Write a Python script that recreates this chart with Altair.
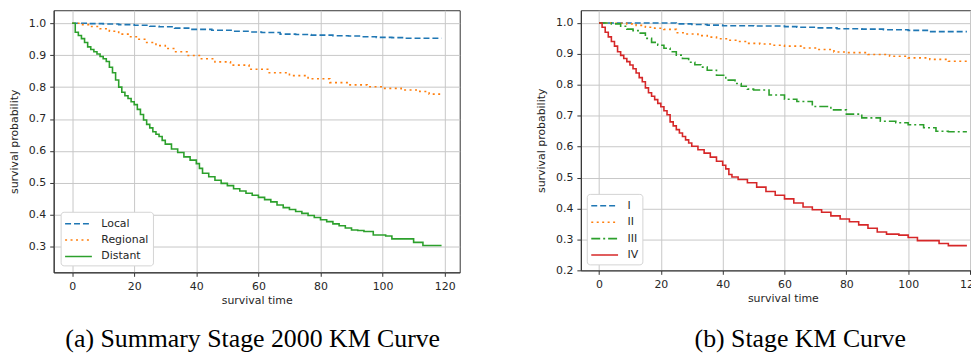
import altair as alt
import pandas as pd

# ---------------- data ----------------
# (a) Summary Stage 2000
local_t = [0, 5, 10, 15, 20, 25, 28, 33, 38, 45, 52, 57, 61, 67, 72, 77, 84, 89, 93, 98, 103, 107, 119]
local_v = [1.0, 0.999, 0.998, 0.996, 0.994, 0.991, 0.989, 0.985, 0.981, 0.978, 0.975, 0.973, 0.971,
           0.966, 0.965, 0.963, 0.961, 0.960, 0.958, 0.956, 0.955, 0.953, 0.953]

regional_t = [0, 3, 6, 9, 12, 15, 18, 21, 24, 27, 30, 33, 37, 41, 46, 51, 57, 63, 70, 76, 83, 89,
              95, 100, 106, 112, 115, 119]
regional_v = [1.0, 0.996, 0.99, 0.983, 0.975, 0.966, 0.958, 0.950, 0.940, 0.930, 0.921, 0.911, 0.899,
              0.889, 0.879, 0.869, 0.856, 0.845, 0.836, 0.826, 0.814, 0.807, 0.801, 0.796, 0.791,
              0.786, 0.778, 0.778]

distant_t = [0, 1, 2, 3, 4, 5, 6, 7, 8, 9, 10, 11, 12, 13, 14, 15, 16, 17, 18, 19, 20, 21, 22, 23,
             24, 25, 26, 27, 28, 29, 30, 32, 34, 36, 38, 40, 41, 42, 44, 46, 48, 50, 52, 54, 56, 58,
             60, 62, 64, 66, 68, 70, 72, 74, 76, 78, 80, 82, 84, 86, 88, 90, 92, 94, 97, 101, 103,
             110, 113, 119]
distant_v = [1.0, 0.972, 0.962, 0.952, 0.94, 0.926, 0.918, 0.911, 0.904, 0.896, 0.889, 0.880, 0.862,
             0.845, 0.822, 0.800, 0.784, 0.773, 0.764, 0.754, 0.745, 0.730, 0.714, 0.697, 0.683,
             0.672, 0.660, 0.652, 0.645, 0.633, 0.621, 0.606, 0.595, 0.581, 0.571, 0.560, 0.545,
             0.530, 0.519, 0.508, 0.498, 0.491, 0.481, 0.474, 0.467, 0.461, 0.454, 0.447, 0.440,
             0.430, 0.422, 0.416, 0.410, 0.404, 0.397, 0.391, 0.384, 0.378, 0.371, 0.365, 0.358,
             0.352, 0.350, 0.347, 0.336, 0.333, 0.324, 0.313, 0.303, 0.303]

# (b) Stage
s1_t = [0, 20, 25, 30, 35, 40, 50, 60, 64, 70, 77, 85, 92, 100, 107, 119]
s1_v = [1.0, 1.0, 0.997, 0.995, 0.993, 0.991, 0.990, 0.988, 0.986, 0.984, 0.981, 0.980, 0.978,
        0.976, 0.972, 0.972]

s2_t = [0, 5, 9, 12, 15, 18, 21, 25, 28, 32, 35, 38, 42, 45, 48, 52, 56, 60, 66, 70, 76, 80, 87,
        94, 100, 107, 113, 119]
s2_v = [1.0, 0.999, 0.997, 0.992, 0.986, 0.983, 0.979, 0.968, 0.964, 0.959, 0.954, 0.949, 0.944,
        0.940, 0.934, 0.932, 0.928, 0.925, 0.919, 0.914, 0.906, 0.904, 0.898, 0.892, 0.887,
        0.882, 0.876, 0.874]

s3_t = [0, 4, 7, 9, 11, 13, 15, 17, 19, 21, 23, 25, 27, 29, 31, 33, 35, 38, 41, 44, 46, 48, 50,
        55, 60, 64, 69, 75, 80, 85, 91, 96, 100, 105, 109, 113, 119]
s3_v = [1.0, 0.997, 0.989, 0.980, 0.975, 0.967, 0.950, 0.937, 0.928, 0.918, 0.907, 0.896, 0.885,
        0.873, 0.865, 0.857, 0.847, 0.831, 0.815, 0.804, 0.795, 0.786, 0.783, 0.767, 0.753,
        0.746, 0.730, 0.719, 0.705, 0.693, 0.682, 0.677, 0.671, 0.661, 0.650, 0.648, 0.648]

s4_t = [0, 1, 2, 3, 4, 5, 6, 7, 8, 9, 10, 11, 12, 13, 14, 15, 16, 17, 18, 19, 20, 21, 22, 23, 24,
        25, 26, 27, 28, 29, 30, 32, 34, 36, 38, 40, 41, 42, 43, 45, 48, 51, 54, 57, 60, 63, 66,
        69, 72, 75, 78, 81, 84, 87, 90, 93, 97, 100, 103, 110, 113, 119]
s4_v = [1.0, 0.986, 0.970, 0.955, 0.940, 0.925, 0.907, 0.895, 0.885, 0.875, 0.864, 0.852, 0.838,
        0.823, 0.810, 0.790, 0.774, 0.763, 0.752, 0.740, 0.729, 0.716, 0.703, 0.680, 0.667,
        0.655, 0.644, 0.633, 0.622, 0.612, 0.601, 0.590, 0.579, 0.566, 0.553, 0.540, 0.528,
        0.510, 0.502, 0.494, 0.483, 0.469, 0.455, 0.443, 0.431, 0.418, 0.405, 0.396, 0.388,
        0.376, 0.366, 0.357, 0.347, 0.336, 0.324, 0.317, 0.314, 0.306, 0.296, 0.287, 0.280, 0.280]

names_a = ["Local", "Regional", "Distant"]
names_b = ["I", "II", "III", "IV"]
colors_a = ["#1f77b4", "#ff7f0e", "#2ca02c"]
colors_b = ["#1f77b4", "#ff7f0e", "#2ca02c", "#d62728"]
dash_a = [[6, 3], [2, 3.5], [1, 0]]
dash_b = [[6, 3], [2, 3.5], [9, 3, 2, 3], [1, 0]]
x_ticks = [0, 20, 40, 60, 80, 100, 120]
y_ticks_a = [0.3, 0.4, 0.5, 0.6, 0.7, 0.8, 0.9, 1.0]
y_ticks_b = [0.2, 0.3, 0.4, 0.5, 0.6, 0.7, 0.8, 0.9, 1.0]
caption_a = "(a) Summary Stage 2000 KM Curve"
caption_b = "(b) Stage KM Curve"


def frame(groups):
    rows = []
    for name, ts, vs in groups:
        for t, v in zip(ts, vs):
            rows.append({"time": t, "prob": v, "group": name})
    return pd.DataFrame(rows)


df_a = frame([("Local", local_t, local_v), ("Regional", regional_t, regional_v),
              ("Distant", distant_t, distant_v)])
df_b = frame([("I", s1_t, s1_v), ("II", s2_t, s2_v), ("III", s3_t, s3_v), ("IV", s4_t, s4_v)])

FONT = "DejaVu Sans"
TXT = "#262626"


def panel(df, names, colors, dashes, xdom, ydom, yvals, width, height, caption, cap_dx,
          cap_offset, xtitle_x, leg_offset):
    legend = alt.Legend(title=None, orient="bottom-left", offset=leg_offset, fillColor="white",
                        strokeColor="#d4d4d4", cornerRadius=3, padding=4,
                        symbolType="M-2,0H2", symbolSize=182, symbolStrokeWidth=1.6,
                        symbolOffset=6, labelFont=FONT, labelFontSize=11, labelColor=TXT,
                        rowPadding=3.5, labelOffset=15)
    return alt.Chart(df).mark_line(interpolate="step-after", strokeWidth=1.6, clip=True).encode(
        x=alt.X("time:Q", scale=alt.Scale(domain=xdom, nice=False, zero=False),
                axis=alt.Axis(values=x_ticks, title="survival time", titleX=xtitle_x,
                              titlePadding=3)),
        y=alt.Y("prob:Q", scale=alt.Scale(domain=ydom, nice=False, zero=False),
                axis=alt.Axis(values=yvals, format=".1f", title="survival probability",
                              titlePadding=9)),
        color=alt.Color("group:N", scale=alt.Scale(domain=names, range=colors), sort=names,
                        legend=legend),
        strokeDash=alt.StrokeDash("group:N", scale=alt.Scale(domain=names, range=dashes),
                                  sort=names, legend=legend),
    ).properties(
        width=width, height=height,
        title=alt.TitleParams(caption, orient="bottom", font="Liberation Serif", fontSize=26,
                              fontWeight="normal", color="black", dx=cap_dx, offset=cap_offset,
                              frame="group", anchor="middle"),
    )


left = panel(df_a, names_a, colors_a, dash_a, [-5.95, 124.85], [0.219, 1.041], y_ticks_a,
             409, 264, caption_a, -4, 21, 204.5, 7)
right = panel(df_b, names_b, colors_b, dash_b, [-5.88, 121.29], [0.2, 1.041], y_ticks_b,
              396, 262, caption_b, 23, 23, 203.5, 6)

chart = alt.hconcat(left, right, spacing=75).resolve_scale(
    color="independent", strokeDash="independent", x="independent", y="independent"
).resolve_legend(
    color="independent", strokeDash="independent"
).properties(
    padding={"left": 0, "top": 0, "right": -10, "bottom": 0}
).configure_view(
    stroke="#333333", strokeWidth=1
).configure_axis(
    grid=True, gridColor="#c8c8c8", gridWidth=1,
    domainColor="#333333", tickColor="#333333", tickSize=4, labelPadding=4,
    labelFont=FONT, labelFontSize=11, labelColor=TXT,
    titleFont=FONT, titleFontSize=11, titleFontWeight="normal", titleColor=TXT,
    titlePadding=5,
)

chart.save("out.html", embed_options={"renderer": "svg", "actions": False})
